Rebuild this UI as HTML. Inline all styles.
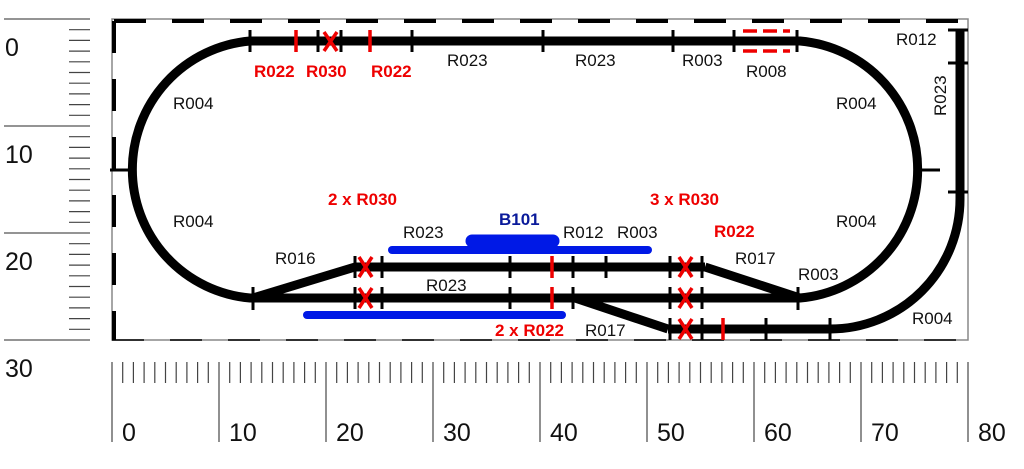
<!DOCTYPE html>
<html><head><meta charset="utf-8"><style>
html,body{margin:0;padding:0;background:#fff;}
svg{display:block;font-family:"Liberation Sans",sans-serif;}
</style></head><body>
<svg width="1024" height="469" viewBox="0 0 1024 469" xmlns="http://www.w3.org/2000/svg">
<g stroke="#555" stroke-width="1.3">
<line x1="4" y1="19" x2="90" y2="19"/><line x1="4" y1="126" x2="90" y2="126"/>
<line x1="4" y1="233" x2="90" y2="233"/><line x1="4" y1="340" x2="90" y2="340"/>
</g>
<g stroke="#444" stroke-width="1.2" id="lt">
<line x1="69" y1="29.7" x2="90" y2="29.7"/><line x1="69" y1="40.4" x2="90" y2="40.4"/><line x1="69" y1="51.1" x2="90" y2="51.1"/><line x1="69" y1="61.8" x2="90" y2="61.8"/><line x1="69" y1="72.5" x2="90" y2="72.5"/><line x1="69" y1="83.2" x2="90" y2="83.2"/><line x1="69" y1="93.9" x2="90" y2="93.9"/><line x1="69" y1="104.6" x2="90" y2="104.6"/><line x1="69" y1="115.3" x2="90" y2="115.3"/>
</g>
<use href="#lt" y="107"/><use href="#lt" y="214"/>
<g font-size="25" fill="#111">
<text x="5" y="56">0</text><text x="5" y="163">10</text><text x="5" y="270">20</text><text x="5" y="377">30</text>
</g>
<g stroke="#444" stroke-width="1.2" id="bt">
<line x1="122.7" y1="362" x2="122.7" y2="383"/><line x1="133.4" y1="362" x2="133.4" y2="383"/><line x1="144.1" y1="362" x2="144.1" y2="383"/><line x1="154.8" y1="362" x2="154.8" y2="383"/><line x1="165.5" y1="362" x2="165.5" y2="383"/><line x1="176.2" y1="362" x2="176.2" y2="383"/><line x1="186.9" y1="362" x2="186.9" y2="383"/><line x1="197.6" y1="362" x2="197.6" y2="383"/><line x1="208.3" y1="362" x2="208.3" y2="383"/>
</g>
<use href="#bt" x="107"/><use href="#bt" x="214"/><use href="#bt" x="321"/><use href="#bt" x="428"/><use href="#bt" x="535"/><use href="#bt" x="642"/><use href="#bt" x="749"/>
<g stroke="#555" stroke-width="1.3">
<line x1="112" y1="362" x2="112" y2="442"/><line x1="219" y1="362" x2="219" y2="442"/><line x1="326" y1="362" x2="326" y2="442"/><line x1="433" y1="362" x2="433" y2="442"/><line x1="540" y1="362" x2="540" y2="442"/><line x1="647" y1="362" x2="647" y2="442"/><line x1="754" y1="362" x2="754" y2="442"/><line x1="861" y1="362" x2="861" y2="442"/><line x1="968" y1="362" x2="968" y2="442"/>
</g>
<g font-size="25" fill="#111">
<text x="122" y="441">0</text><text x="229" y="441">10</text><text x="336" y="441">20</text><text x="443" y="441">30</text><text x="550" y="441">40</text><text x="657" y="441">50</text><text x="764" y="441">60</text><text x="871" y="441">70</text><text x="978" y="441">80</text>
</g>
<rect x="112" y="19" width="856" height="321" fill="none" stroke="#888" stroke-width="1.5"/>
<g stroke="#000" stroke-width="4" fill="none" stroke-dasharray="32,26">
<line x1="114" y1="21" x2="968" y2="21"/>
<line x1="114" y1="21" x2="114" y2="340"/>
</g>
<line x1="112" y1="340" x2="968" y2="340" stroke="#000" stroke-width="1.5" stroke-dasharray="32,26"/>
<g stroke="#000" stroke-width="9" fill="none">
<path d="M250 41 H800 A129 129 0 0 1 800 298 H250 A129 129 0 0 1 250 41 Z"/>
<line x1="355" y1="267" x2="705" y2="267"/>
<line x1="253" y1="298" x2="355" y2="267"/>
<line x1="705" y1="267" x2="800" y2="298"/>
<line x1="575" y1="298" x2="668" y2="329"/>
<path d="M668 329 H830 A130 130 0 0 0 960 199 V30"/>
</g>
<g stroke="#000" stroke-width="3">
<line x1="250" y1="30" x2="250" y2="52"/><line x1="318" y1="30" x2="318" y2="52"/><line x1="341" y1="30" x2="341" y2="52"/><line x1="412" y1="30" x2="412" y2="52"/><line x1="543" y1="30" x2="543" y2="52"/><line x1="673" y1="30" x2="673" y2="52"/><line x1="734" y1="30" x2="734" y2="52"/><line x1="797" y1="30" x2="797" y2="52"/>
<line x1="110" y1="170" x2="135" y2="170"/><line x1="916" y1="170" x2="940" y2="170"/>
<line x1="948" y1="30" x2="968" y2="30"/><line x1="948" y1="63" x2="968" y2="63"/><line x1="948" y1="192" x2="968" y2="192"/>
<line x1="253" y1="287" x2="253" y2="310"/>
<line x1="355" y1="256" x2="355" y2="278"/><line x1="382" y1="256" x2="382" y2="278"/><line x1="510" y1="256" x2="510" y2="278"/><line x1="573" y1="256" x2="573" y2="278"/><line x1="606" y1="256" x2="606" y2="278"/><line x1="670" y1="256" x2="670" y2="278"/><line x1="702" y1="256" x2="702" y2="278"/>
<line x1="355" y1="287" x2="355" y2="309"/><line x1="382" y1="287" x2="382" y2="309"/><line x1="510" y1="287" x2="510" y2="309"/><line x1="573" y1="287" x2="573" y2="309"/><line x1="670" y1="287" x2="670" y2="309"/><line x1="702" y1="287" x2="702" y2="309"/><line x1="798" y1="287" x2="798" y2="310"/>
<line x1="670" y1="318" x2="670" y2="340"/><line x1="702" y1="318" x2="702" y2="340"/><line x1="766" y1="318" x2="766" y2="340"/><line x1="830" y1="318" x2="830" y2="340"/>
</g>
<g stroke="#e00" stroke-width="3.5" fill="none">
<line x1="296" y1="30" x2="296" y2="52"/><line x1="370" y1="30" x2="370" y2="52"/>
<path d="M324 32 L337 51 M337 32 L324 51"/>
<line x1="743" y1="31" x2="790" y2="31" stroke-dasharray="14,6"/><line x1="743" y1="51" x2="790" y2="51" stroke-dasharray="14,6"/>
<line x1="552" y1="256" x2="552" y2="278"/><line x1="552" y1="287" x2="552" y2="309"/>
<line x1="723" y1="318" x2="723" y2="340"/>
<path d="M359 257 L372 277 M372 257 L359 277"/>
<path d="M359 288 L372 308 M372 288 L359 308"/>
<path d="M679 257 L692 277 M692 257 L679 277"/>
<path d="M679 288 L692 308 M692 288 L679 308"/>
<path d="M679 319 L692 339 M692 319 L679 339"/>
</g>
<g stroke="#0019e6" stroke-linecap="round" fill="none">
<line x1="392" y1="250" x2="648" y2="250" stroke-width="8"/>
<line x1="307" y1="315" x2="562" y2="315" stroke-width="8"/>
<line x1="472" y1="241" x2="553" y2="241" stroke-width="13"/>
</g>
<g font-size="17" fill="#111">
<text x="447" y="66">R023</text><text x="575" y="66">R023</text><text x="682" y="66">R003</text><text x="746" y="77">R008</text>
<text x="173" y="109">R004</text><text x="173" y="227">R004</text><text x="836" y="109">R004</text><text x="836" y="227">R004</text>
<text x="896" y="45">R012</text><text x="0" y="0" transform="translate(946,116) rotate(-90)">R023</text>
<text x="403" y="238">R023</text><text x="563" y="238">R012</text><text x="617" y="238">R003</text>
<text x="275" y="264">R016</text><text x="426" y="291">R023</text><text x="735" y="264">R017</text><text x="798" y="280">R003</text>
<text x="585" y="336">R017</text><text x="912" y="324">R004</text>
</g>
<g font-size="17" font-weight="bold" fill="#e00">
<text x="254" y="77">R022</text><text x="306" y="77">R030</text><text x="371" y="77">R022</text>
<text x="328" y="205">2 x R030</text><text x="650" y="205">3 x R030</text><text x="714" y="237">R022</text>
<text x="495" y="336">2 x R022</text>
</g>
<text x="499" y="225" font-size="17" font-weight="bold" fill="#0a1a9a">B101</text>
</svg>
</body></html>
